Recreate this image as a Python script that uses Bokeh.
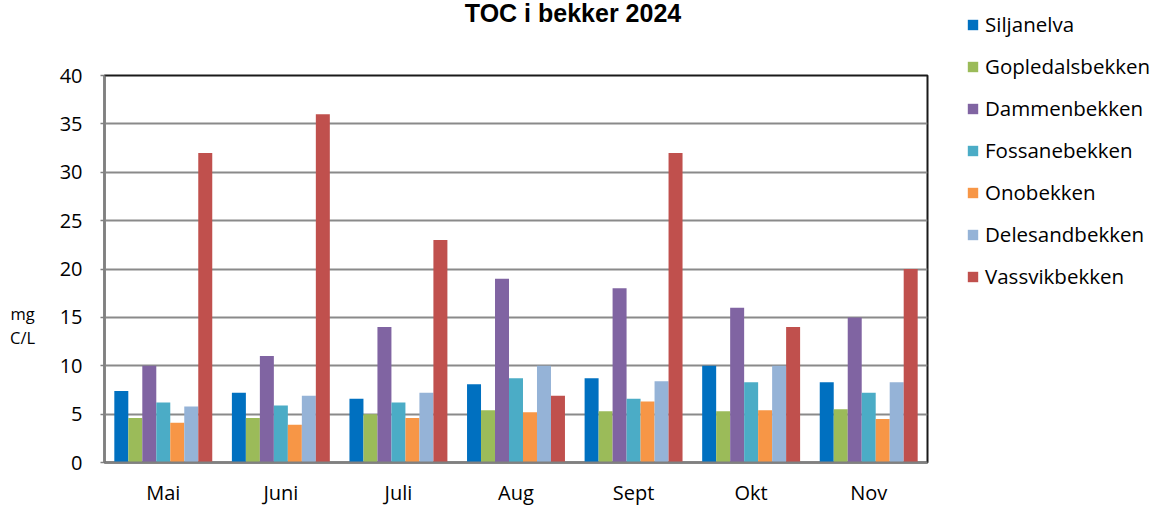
from bokeh.plotting import figure
from bokeh.models import FactorRange, Range1d, Legend, LegendItem, Label, ColumnDataSource, FixedTicker
from bokeh.transform import dodge
from bokeh.embed import file_html
from bokeh.resources import INLINE

months = ["Mai", "Juni", "Juli", "Aug", "Sept", "Okt", "Nov"]
series_names = ["Siljanelva", "Gopledalsbekken", "Dammenbekken", "Fossanebekken",
                "Onobekken", "Delesandbekken", "Vassvikbekken"]
siljanelva = [7.4, 7.2, 6.6, 8.1, 8.7, 10.0, 8.3]
gopledalsbekken = [4.6, 4.6, 5.0, 5.4, 5.3, 5.3, 5.5]
dammenbekken = [10.0, 11.0, 14.0, 19.0, 18.0, 16.0, 15.0]
fossanebekken = [6.2, 5.9, 6.2, 8.7, 6.6, 8.3, 7.2]
onobekken = [4.1, 3.9, 4.6, 5.2, 6.3, 5.4, 4.5]
delesandbekken = [5.8, 6.9, 7.2, 10.0, 8.4, 10.0, 8.3]
vassvikbekken = [32.0, 36.0, 23.0, 6.9, 32.0, 14.0, 20.0]
colors = ["#0070C0", "#9BBB59", "#8064A2", "#4BACC6", "#F79646", "#95B3D7", "#C0504D"]
y_ticks = [0, 5, 10, 15, 20, 25, 30, 35, 40]
title_text = "TOC i bekker 2024"
unit_lines = ["mg", "C/L"]

values = [siljanelva, gopledalsbekken, dammenbekken, fossanebekken,
          onobekken, delesandbekken, vassvikbekken]
data = {"month": months}
for name, vals in zip(series_names, values):
    data[name] = vals
src = ColumnDataSource(data)

p = figure(x_range=FactorRange(*months, range_padding=0, factor_padding=0),
           y_range=Range1d(0, 40),
           frame_width=823, frame_height=387,
           min_border_left=104, min_border_right=227,
           min_border_top=75, min_border_bottom=43,
           output_backend="svg", toolbar_location=None,
           background_fill_color="white", border_fill_color="white")

bar_w = 0.119
renderers = []
for i, (name, col) in enumerate(zip(series_names, colors)):
    r = p.vbar(x=dodge("month", (i - 3) * bar_w, range=p.x_range), top=name,
               width=bar_w, source=src, fill_color=col, line_color=None)
    renderers.append(r)

p.outline_line_color = "#1a1a1a"
p.outline_line_width = 2

p.xgrid.grid_line_color = None
p.ygrid.grid_line_color = "#8a8a8a"
p.ygrid.grid_line_width = 2
p.ygrid.ticker = FixedTicker(ticks=y_ticks)

p.yaxis.ticker = FixedTicker(ticks=y_ticks)
p.yaxis.axis_line_color = "#808080"
p.yaxis.axis_line_width = 2
p.yaxis.major_tick_line_color = "#808080"
p.yaxis.major_tick_line_width = 1.5
p.yaxis.major_tick_out = 4
p.yaxis.major_tick_in = 0
p.yaxis.minor_tick_line_color = None
p.yaxis.major_label_standoff = 18
p.yaxis.major_label_text_font = "Open Sans"
p.yaxis.major_label_text_font_size = "20px"
p.yaxis.major_label_text_color = "black"

p.xaxis.axis_line_color = "#808080"
p.xaxis.axis_line_width = 2
p.xaxis.major_tick_line_color = None
p.xaxis.major_tick_out = 0
p.xaxis.major_tick_in = 0
p.xaxis.minor_tick_line_color = None
p.xaxis.major_label_standoff = 16
p.xaxis.major_label_text_font = "Open Sans"
p.xaxis.major_label_text_font_size = "20px"
p.xaxis.major_label_text_color = "black"

# title (in the top panel, positioned through the plot's scales)
p.add_layout(Label(x=3.985, y=46.51, text=title_text, text_align="center",
                   text_baseline="alphabetic", text_font="Liberation Sans",
                   text_font_style="bold", text_font_size="25px", text_color="black"), "above")
# unit label (left panel)
p.add_layout(Label(x=-0.697, y=15.45, text=unit_lines[0], text_align="center",
                   text_baseline="alphabetic", text_font="Open Sans",
                   text_font_size="16.5px", text_color="black"), "left")
p.add_layout(Label(x=-0.697, y=12.97, text=unit_lines[1], text_align="center",
                   text_baseline="alphabetic", text_font="Open Sans",
                   text_font_size="16.5px", text_color="black"), "left")

legend = Legend(items=[LegendItem(label=n, renderers=[r]) for n, r in zip(series_names, renderers)],
                location=(39, 172), orientation="vertical",
                glyph_width=13, glyph_height=13, label_height=28, spacing=14,
                padding=0, margin=0, label_standoff=6,
                border_line_color=None, background_fill_alpha=0,
                label_text_font="Open Sans", label_text_font_size="20.5px",
                label_text_color="black")
p.add_layout(legend, "right")

open("out.html", "w").write(file_html(p, INLINE))
